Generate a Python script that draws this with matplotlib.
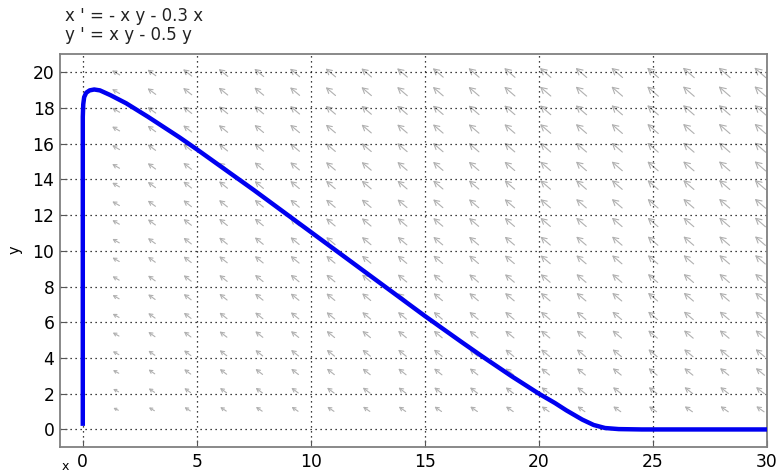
import numpy as np
import matplotlib
matplotlib.use("Agg")
import matplotlib.pyplot as plt

plt.rcParams['font.family'] = ['DejaVu Sans']

# Trajectory
traj_x = [0.0, 0.0, 0.0, 0.0, 0.02, 0.06, 0.15, 0.3, 0.5, 0.75, 1.2, 1.9, 2.86,
          4.24, 5.0, 7.5, 10.0, 12.5, 15.0, 16.6, 17.5, 18.8, 20.0, 20.7, 21.2,
          21.9, 22.4, 22.9, 23.5, 24.5, 26.0, 28.0, 30.0]
traj_y = [0.2, 8.0, 15.0, 17.5, 18.2, 18.6, 18.85, 18.98, 19.03, 18.98, 18.72, 18.26, 17.5,
          16.35, 15.68, 13.4, 11.05, 8.7, 6.35, 4.9, 4.1, 2.98, 2.0, 1.48, 1.07,
          0.55, 0.25, 0.08, 0.02, 0.0, 0.0, 0.0, 0.0]

x_ticks = [0, 5, 10, 15, 20, 25, 30]
y_ticks = [0, 2, 4, 6, 8, 10, 12, 14, 16, 18, 20]
title_lines = ["x ' = - x y - 0.3 x", "y ' = x y - 0.5 y"]

# direction field sample grid
field_x = np.linspace(1.45, 29.7, 19)
field_y = np.linspace(1.14, 19.97, 19)

fig = plt.figure(figsize=(7.78, 4.73), dpi=100)
ax = fig.add_axes([0.0771, 0.0543, 0.9088, 0.8309])
ax.set_xlim(-1, 30)
ax.set_ylim(-1, 21)

# direction field
W, H = 707.0, 393.0
sx = W / 31.0
sy = H / 22.0
for xv in field_x:
    for yv in field_y:
        u = -xv * yv - 0.3 * xv
        v = xv * yv - 0.5 * yv
        m = np.hypot(u, v)
        L = 4.77 * m ** 0.174          # length in pixels
        du, dv = u, 0.9 * v
        dn = np.hypot(du, dv)
        ex = L * du / dn / sx / 2
        ey = L * dv / dn / sy / 2
        ax.annotate('', xy=(xv + ex, yv + ey), xytext=(xv - ex, yv - ey),
                    arrowprops=dict(arrowstyle='->,head_length=0.4,head_width=0.22',
                                    color='#b0b0b0', lw=0.8, shrinkA=0, shrinkB=0,
                                    mutation_scale=L * 0.72),
                    zorder=1, annotation_clip=False)

ax.plot(traj_x, traj_y, color='#0000f0', lw=3.2, solid_capstyle='butt', zorder=3)

ax.set_xticks(x_ticks)
ax.set_yticks(y_ticks)
ax.set_xticklabels([str(t) for t in x_ticks], fontsize=12.3)
ax.set_yticklabels([str(t) for t in y_ticks], fontsize=12.3)
ax.grid(True, color='black', linestyle=(0, (1, 3)), linewidth=0.9)
ax.tick_params(direction='in', length=5, color='#555555', pad=4)
for s in ax.spines.values():
    s.set_color('#808080')
    s.set_linewidth(1.3)

fig.text(65 / 778, 1 - 7 / 473, title_lines[0], fontsize=12, va='top', ha='left', color='#222222')
fig.text(65 / 778, 1 - 26 / 473, title_lines[1], fontsize=12, va='top', ha='left', color='#222222')
fig.text(65 / 778, 1 - 466 / 473, 'x', fontsize=9, va='center', ha='center')
fig.text(15 / 778, 1 - 250 / 473, 'y', fontsize=10.5, va='center', ha='center', rotation=90)

fig.savefig('out.png', dpi=100)
